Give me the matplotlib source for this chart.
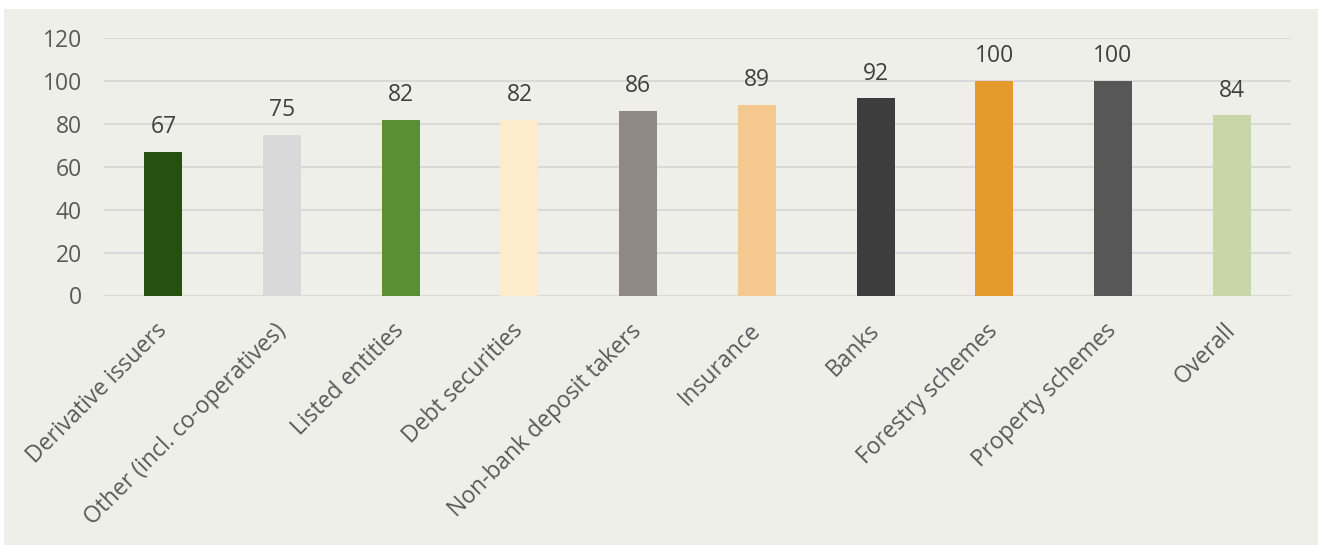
import matplotlib
matplotlib.use("Agg")
import matplotlib.pyplot as plt
from matplotlib.patches import Rectangle

categories = ["Derivative issuers", "Other (incl. co-operatives)", "Listed entities",
              "Debt securities", "Non-bank deposit takers", "Insurance", "Banks",
              "Forestry schemes", "Property schemes", "Overall"]
values = [67, 75, 82, 82, 86, 89, 92, 100, 100, 84]
colors = ["#245010", "#D9D9D9", "#5B8F34", "#FDEBCB", "#8E8A83",
          "#F4C88E", "#3D3D3D", "#E39B2C", "#575757", "#C7D7A7"]
yticks = [0, 20, 40, 60, 80, 100, 120]

plt.rcParams['font.family'] = ['Open Sans', 'DejaVu Sans']

W, H = 1318, 545
fig = plt.figure(figsize=(W / 100, H / 100), dpi=100, facecolor="white")
bg = "#EFEFEA"
fig.patches.append(Rectangle((4 / W, 0 / H), (W - 4) / W, (H - 9) / H,
                             transform=fig.transFigure, facecolor=bg,
                             edgecolor="none", zorder=-10))

ax = fig.add_axes([104 / W, (H - 295.5) / H, (1291 - 104) / W, (295.5 - 38) / H])
ax.set_facecolor("none")
x = list(range(len(categories)))
bars = ax.bar(x, values, width=0.32, color=colors, zorder=3)
for xi, v in zip(x, values):
    ax.annotate(f"{v}", (xi, v), xytext=(0, 9), textcoords="offset points",
                ha="center", va="bottom", fontsize=16.5, color="#404040")

ax.set_xlim(-0.5, len(categories) - 0.5)
ax.set_ylim(0, 120)
ax.set_yticks(yticks)
ax.yaxis.grid(True, color="#D9D9D9", linewidth=1.5, zorder=0)
ax.set_axisbelow(True)
for s in ax.spines.values():
    s.set_visible(False)
ax.tick_params(axis="y", length=0, pad=16, labelsize=16.5, labelcolor="#595959")
ax.tick_params(axis="x", length=0, pad=23, labelsize=16.5, labelcolor="#595959")
ax.set_xticks(x)
ax.set_xticklabels(categories, rotation=45, ha="right", va="center",
                   rotation_mode="anchor")

fig.savefig("out.png", dpi=100, facecolor="white")
